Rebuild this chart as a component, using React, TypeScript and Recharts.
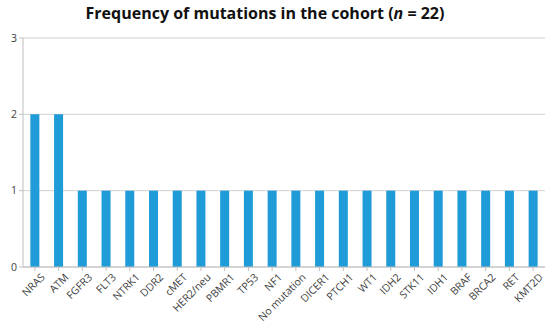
import { Bar, BarChart, CartesianGrid, XAxis, YAxis } from 'recharts';

const genes = [
    'NRAS', 'ATM', 'FGFR3', 'FLT3', 'NTRK1', 'DDR2', 'cMET', 'HER2/neu',
    'PBMR1', 'TP53', 'NF1', 'No mutation', 'DICER1', 'PTCH1', 'WT1', 'IDH2',
    'STK11', 'IDH1', 'BRAF', 'BRCA2', 'RET', 'KMT2D',
];
const counts = [2, 2, 1, 1, 1, 1, 1, 1, 1, 1, 1, 1, 1, 1, 1, 1, 1, 1, 1, 1, 1, 1];
const yTicks = [0, 1, 2, 3];

const data = genes.map((name, i) => ({ name, count: counts[i] }));

const FONT = "'Open Sans', 'Noto Sans', sans-serif";

const GeneTick = (props: any) => {
    const { x, y, payload } = props;
    return (
        <g transform={`translate(${x},${y})`}>
            <text
                x={4}
                y={11}
                textAnchor="end"
                transform="rotate(-45)"
                fontSize={10.5}
                fill="#404040"
                fontFamily={FONT}
            >
                {payload.value}
            </text>
        </g>
    );
};

const App = () => {
    return (
        <div style={{ position: 'absolute', top: 0, left: 0, width: 550, height: 326, background: '#fff' }}>
            <div
                style={{
                    position: 'absolute',
                    top: 2,
                    left: 0,
                    width: 530,
                    textAlign: 'center',
                    fontFamily: FONT,
                    fontWeight: 700,
                    fontSize: 16,
                    color: '#111',
                }}
            >
                Frequency of mutations in the cohort (<i>n</i> = 22)
            </div>
            <BarChart
                width={550}
                height={326}
                data={data}
                barCategoryGap="31%"
                margin={{ top: 38, right: 5, left: 0, bottom: 4 }}
            >
                <CartesianGrid vertical={false} stroke="#d0d0d0" />
                <XAxis
                    dataKey="name"
                    interval={0}
                    height={55}
                    tick={<GeneTick />}
                    tickLine={{ stroke: '#bfbfbf' }}
                    axisLine={{ stroke: '#bfbfbf' }}
                    tickSize={4}
                />
                <YAxis
                    width={23}
                    domain={[0, 3]}
                    ticks={yTicks}
                    tick={{ fontSize: 10.5, fill: '#404040', fontFamily: FONT }}
                    tickLine={{ stroke: '#bfbfbf' }}
                    axisLine={{ stroke: '#bfbfbf' }}
                    tickSize={4}
                />
                <Bar dataKey="count" fill="#1f9bd7" isAnimationActive={false} />
            </BarChart>
        </div>
    );
};

export default App;
